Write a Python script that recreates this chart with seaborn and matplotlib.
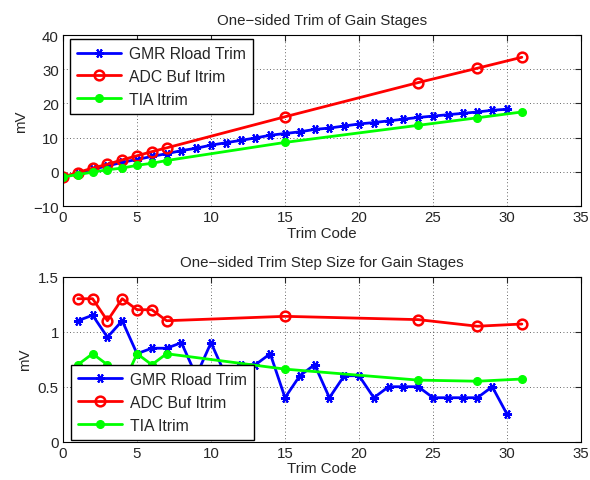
import numpy as np
import matplotlib
matplotlib.use("Agg")
import matplotlib.pyplot as plt
import matplotlib.ticker as mticker
import seaborn as sns

# trim codes
gmr_codes = list(range(0, 31))
sparse_codes = [0, 1, 2, 3, 4, 5, 6, 7, 15, 24, 28, 31]

# top: cumulative trim (mV)
gmr_trim = [-1.5, -0.4, 0.8, 1.7, 2.8, 3.6, 4.5, 5.3, 6.2, 6.9, 7.8, 8.5, 9.2, 9.9, 10.7, 11.2,
            11.7, 12.4, 12.8, 13.4, 14.0, 14.4, 14.9, 15.4, 15.9, 16.3, 16.7, 17.1, 17.5, 18.0, 18.3]
adc_trim = [-1.5, -0.2, 1.1, 2.2, 3.5, 4.7, 5.9, 7.0, 16.1, 26.1, 30.3, 33.5]
tia_trim = [-1.5, -0.8, -0.1, 0.6, 1.1, 1.9, 2.5, 3.3, 8.6, 13.6, 15.8, 17.5]

# bottom: step size (mV)
gmr_step_codes = list(range(1, 31))
step_codes = [1, 2, 3, 4, 5, 6, 7, 15, 24, 28, 31]
gmr_step = [1.1, 1.15, 0.95, 1.1, 0.8, 0.85, 0.85, 0.9, 0.6, 0.9, 0.6, 0.7, 0.7, 0.8, 0.4,
            0.6, 0.7, 0.4, 0.6, 0.6, 0.4, 0.5, 0.5, 0.5, 0.4, 0.4, 0.4, 0.4, 0.5, 0.25]
adc_step = [1.3, 1.3, 1.1, 1.3, 1.2, 1.2, 1.1, 1.14, 1.11, 1.05, 1.07]
tia_step = [0.7, 0.8, 0.7, 0.5, 0.8, 0.7, 0.8, 0.66, 0.56, 0.55, 0.57]

labels = ["GMR Rload Trim", "ADC Buf Itrim", "TIA Itrim"]

sns.set_style("white")
plt.rcParams["font.family"] = ["Liberation Sans", "DejaVu Sans"]
plt.rcParams["font.size"] = 10.5

fig = plt.figure(figsize=(5.9, 4.81), dpi=100)
ax1 = fig.add_axes([0.1068, 0.5696, 0.878, 0.3555])
ax2 = fig.add_axes([0.1068, 0.0796, 0.878, 0.343])

asterisk = (6, 2, 90)
blue_kw = dict(color=(0, 0, 1), marker=asterisk, markersize=6.5, markeredgewidth=1.5,
               markeredgecolor=(0, 0, 1), linewidth=2)
red_kw = dict(color=(1, 0, 0), marker="o", markersize=7, markerfacecolor="none",
              markeredgecolor=(1, 0, 0), markeredgewidth=1.8, linewidth=2)
green_kw = dict(color=(0, 1, 0), marker="o", markersize=5.5, markeredgewidth=1,
                markeredgecolor=(0, 1, 0), markerfacecolor=(0, 1, 0), linewidth=2)

sns.lineplot(x=gmr_codes, y=gmr_trim, ax=ax1, label=labels[0], **blue_kw)
sns.lineplot(x=sparse_codes, y=adc_trim, ax=ax1, label=labels[1], **red_kw)
sns.lineplot(x=sparse_codes, y=tia_trim, ax=ax1, label=labels[2], **green_kw)

sns.lineplot(x=gmr_step_codes, y=gmr_step, ax=ax2, label=labels[0], **blue_kw)
sns.lineplot(x=step_codes, y=adc_step, ax=ax2, label=labels[1], **red_kw)
sns.lineplot(x=step_codes, y=tia_step, ax=ax2, label=labels[2], **green_kw)

ax1.set_ylim(-10, 40)
ax1.set_yticks(np.arange(-10, 41, 10))
ax2.set_ylim(0, 1.5)
ax2.set_yticks([0, 0.5, 1, 1.5])
ax2.yaxis.set_major_formatter(mticker.FuncFormatter(lambda v, p: "%g" % v))

titles = ["One\u2212sided Trim of Gain Stages", "One\u2212sided Trim Step Size for Gain Stages"]
legend_pos = [("upper left", (0.0135, 0.977)), ("lower left", (0.015, 0.012))]
for ax, t, (loc, anchor) in zip([ax1, ax2], titles, legend_pos):
    ax.set_xlim(0, 35)
    ax.set_xticks(np.arange(0, 36, 5))
    ax.set_title(t, fontsize=10.8, pad=8)
    ax.set_xlabel("Trim Code", fontsize=10.8, labelpad=1)
    ax.set_ylabel("mV", fontsize=10.8, labelpad=4)
    ax.grid(True, linestyle=(0, (1, 3)), color="black", linewidth=0.6, alpha=0.8)
    ax.tick_params(direction="in", length=4, top=True, right=True, labelsize=10.8, pad=3)
    for s in ax.spines.values():
        s.set_visible(True)
        s.set_color("black")
        s.set_linewidth(0.8)
    leg = ax.legend(loc=loc, bbox_to_anchor=anchor, fontsize=11.3, frameon=True,
                    fancybox=False, edgecolor="black", framealpha=1, borderaxespad=0,
                    handlelength=2.8, labelspacing=0.5, borderpad=0.45, handletextpad=0.5)
    leg.get_frame().set_linewidth(1.0)

fig.savefig("out.png", dpi=100)
